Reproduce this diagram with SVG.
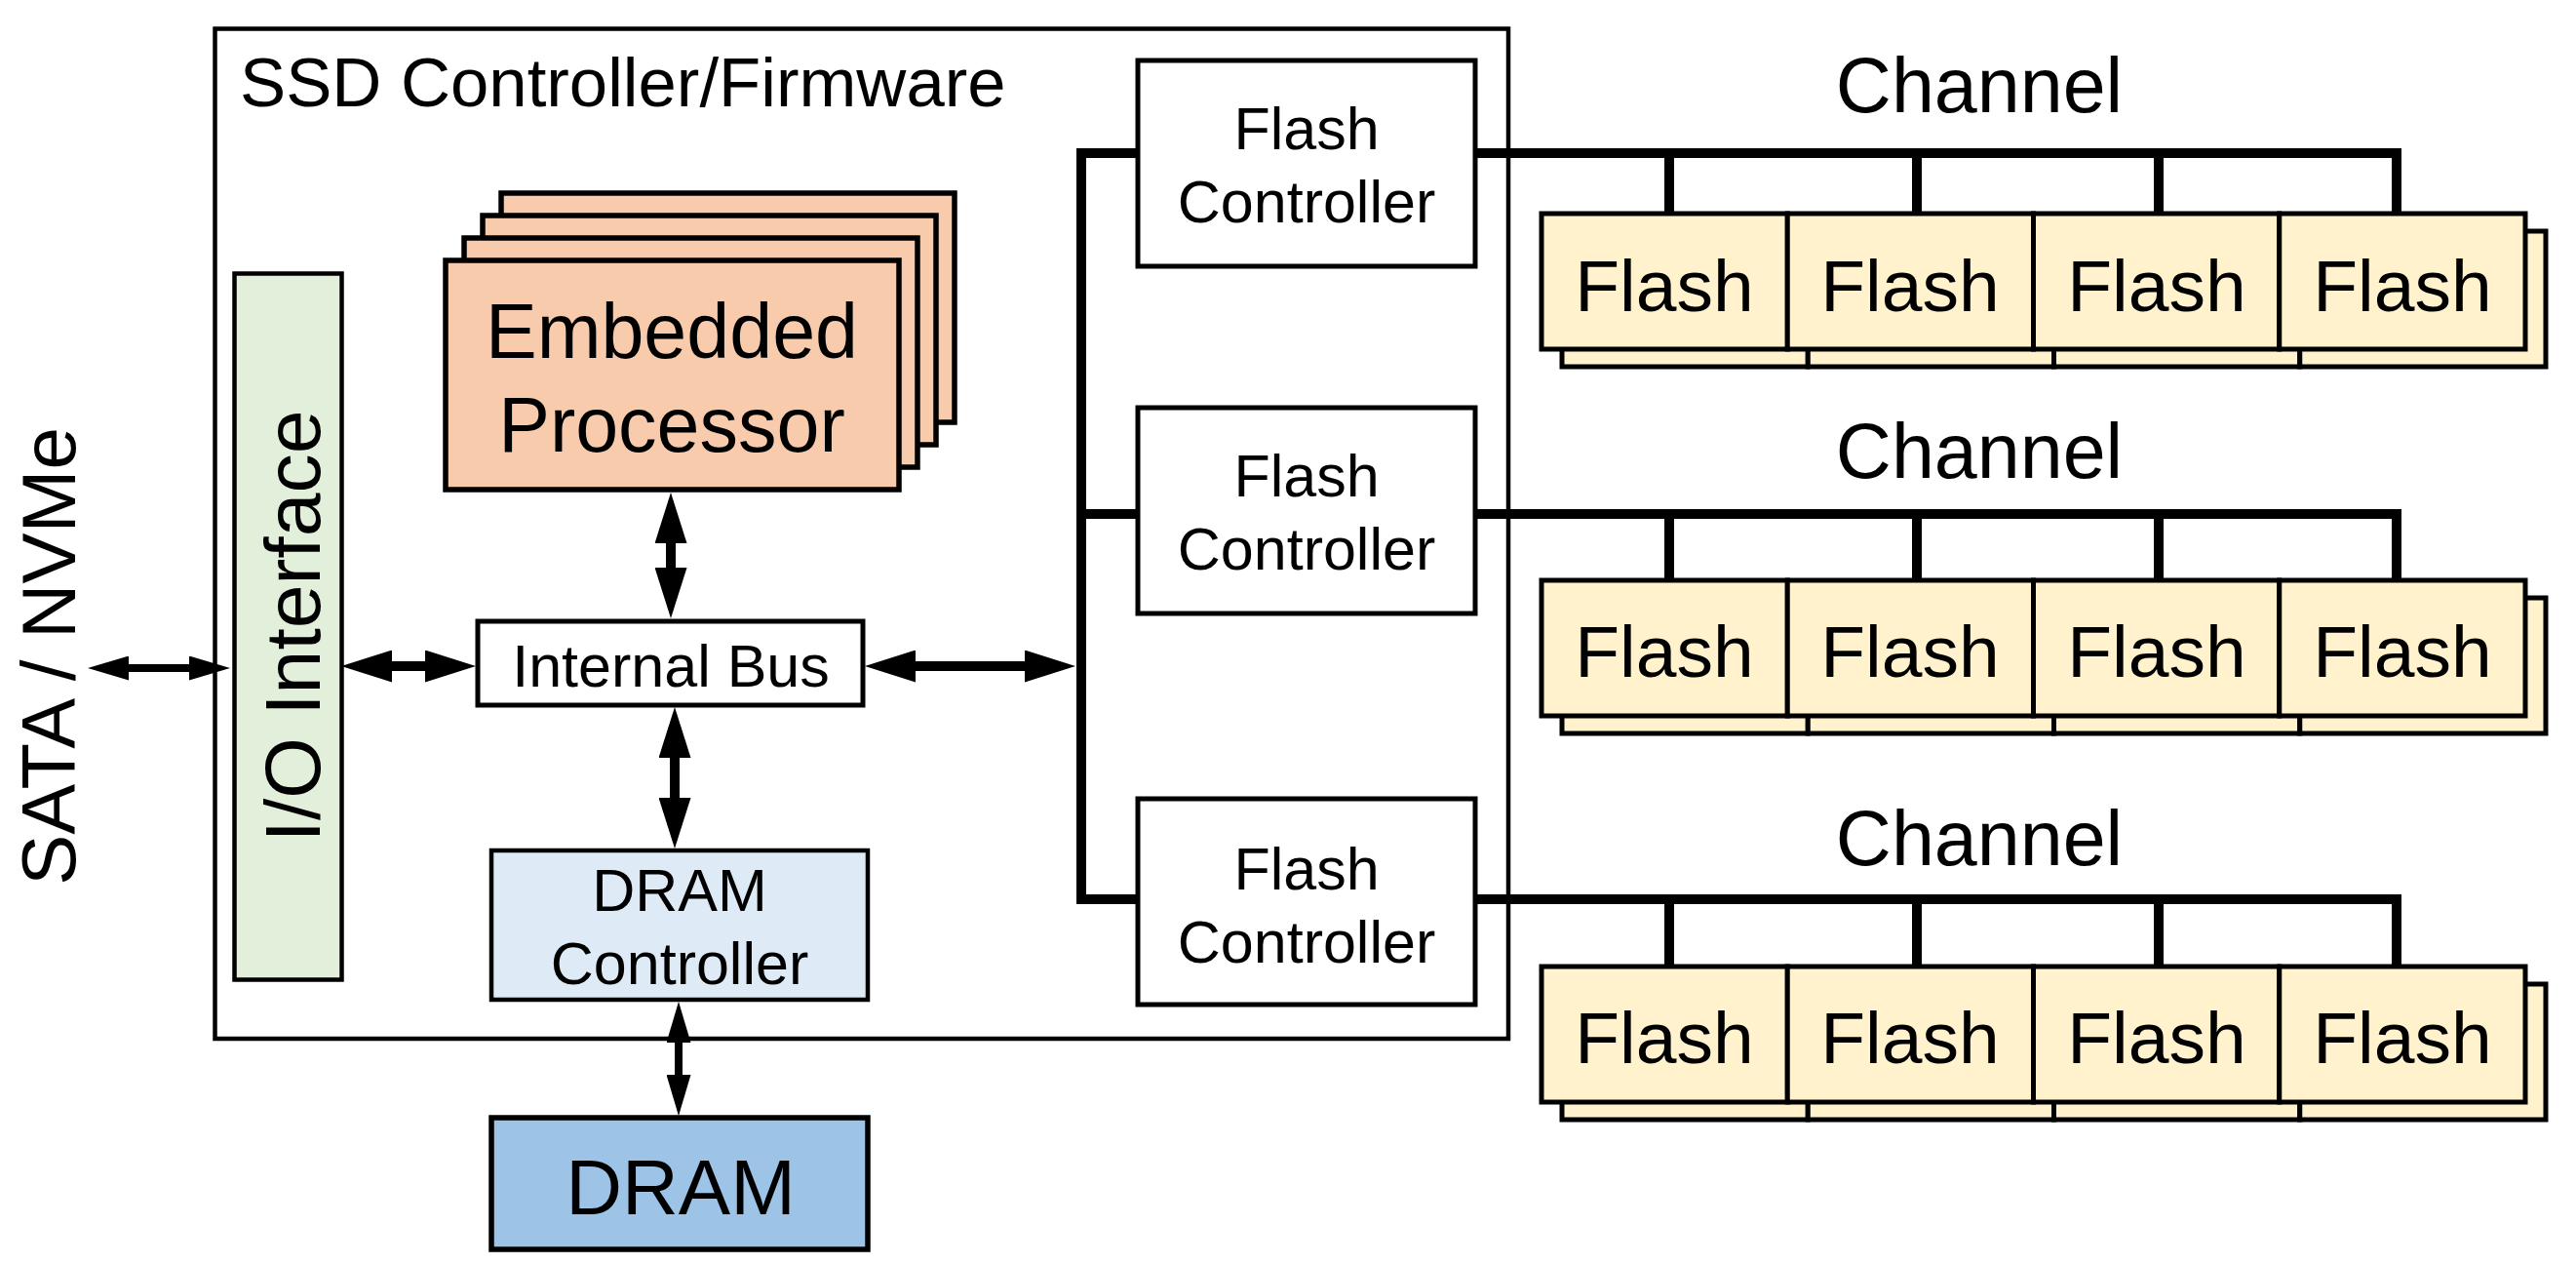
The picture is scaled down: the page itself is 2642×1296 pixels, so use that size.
<svg xmlns="http://www.w3.org/2000/svg" width="2642" height="1296" viewBox="0 0 2642 1296">
<style>
.t{font-family:"Liberation Sans",Arial,Helvetica,sans-serif;fill:#000;text-anchor:middle}
.bx{stroke:#000;stroke-width:5}
.fl{fill:#fff2cc;stroke:#000;stroke-width:5}
.ep{fill:#f8cbad;stroke:#000;stroke-width:5.5}
.bus{fill:none;stroke:#000;stroke-width:10;stroke-linejoin:miter}
.arr{fill:none;stroke:#000;stroke-width:10;marker-start:url(#ah);marker-end:url(#ah)}
.arrs{fill:none;stroke:#000;stroke-width:8;marker-start:url(#ahs);marker-end:url(#ahs)}
</style>
<defs>
<marker id="ah" viewBox="0 0 52 33" refX="22" refY="16.5" markerWidth="52" markerHeight="33" markerUnits="userSpaceOnUse" orient="auto-start-reverse"><path d="M0,0 L52,16.5 L0,33 Z" fill="#000"/></marker>
<marker id="ahs" viewBox="0 0 42 25" refX="18" refY="12.5" markerWidth="42" markerHeight="25" markerUnits="userSpaceOnUse" orient="auto-start-reverse"><path d="M0,0 L42,12.5 L0,25 Z" fill="#000"/></marker>
</defs>
<rect width="2642" height="1296" fill="#fff"/>

<g id="ssd-controller">
<rect x="220.5" y="29.5" width="1326.5" height="1035.5" fill="none" stroke="#000" stroke-width="4.5"/>
<text class="t" x="246" y="109" font-size="70.7" style="text-anchor:start">SSD Controller/Firmware</text>
</g>

<g id="connectors">
<line class="arrs" x1="114" y1="685" x2="212" y2="685"/>
<line class="arr" x1="380" y1="683" x2="458" y2="683"/>
<line class="arr" x1="688" y1="535" x2="688" y2="604"/>
<line class="arr" x1="917" y1="683" x2="1073" y2="683"/>
<line class="arr" x1="692" y1="755" x2="692" y2="840"/>
<line class="arrs" x1="696" y1="1051" x2="696" y2="1120"/>
<path class="bus" d="M1167,157 H1109 V922 H1167 M1109,527 H1167"/>
<path class="bus" d="M1513,157 H2458 V220 M1712,157 V220 M1966,157 V220 M2214,157 V220"/>
<path class="bus" d="M1513,527 H2458 V596 M1712,527 V596 M1966,527 V596 M2214,527 V596"/>
<path class="bus" d="M1513,922 H2458 V992 M1712,922 V992 M1966,922 V992 M2214,922 V992"/>
</g>

<g id="sata-nvme">
<text class="t" x="0" y="0" font-size="78" transform="translate(77,673) rotate(-90)">SATA / NVMe</text>
</g>

<g id="io-interface">
<rect x="240.5" y="280.5" width="110" height="724" fill="#e2efda" stroke="#000" stroke-width="4.5"/>
<text class="t" x="0" y="0" font-size="80.5" transform="translate(328,642) rotate(-90)">I/O Interface</text>
</g>

<g id="embedded-processor">
<rect class="ep" x="514" y="198" width="465" height="235"/>
<rect class="ep" x="495" y="221" width="465" height="235"/>
<rect class="ep" x="476" y="244" width="465" height="235"/>
<rect class="ep" x="457" y="267" width="465" height="235"/>
<text class="t" x="689" y="367" font-size="79">Embedded</text>
<text class="t" x="689" y="463" font-size="79">Processor</text>
</g>

<g id="internal-bus">
<rect class="bx" x="490" y="637" width="395" height="86" fill="#fff" stroke-width="4.5"/>
<text class="t" x="688" y="704" font-size="61">Internal Bus</text>
</g>

<g id="dram-controller">
<rect x="504" y="872" width="386" height="153" fill="#deebf7" stroke="#000" stroke-width="4.5"/>
<text class="t" x="697" y="934" font-size="61">DRAM</text>
<text class="t" x="697" y="1009" font-size="61">Controller</text>
</g>

<g id="dram">
<rect x="504" y="1146" width="386" height="135" fill="#9dc3e6" stroke="#000" stroke-width="5.5"/>
<text class="t" x="698" y="1245" font-size="80">DRAM</text>
</g>

<g id="flash-controller-1">
<rect class="bx" x="1167" y="62" width="346" height="211" fill="#fff"/>
<text class="t" x="1340" y="153" font-size="61">Flash</text>
<text class="t" x="1340" y="228" font-size="61">Controller</text>
</g>
<g id="flash-controller-2">
<rect class="bx" x="1167" y="418" width="346" height="211" fill="#fff"/>
<text class="t" x="1340" y="509" font-size="61">Flash</text>
<text class="t" x="1340" y="584" font-size="61">Controller</text>
</g>
<g id="flash-controller-3">
<rect class="bx" x="1167" y="819" width="346" height="211" fill="#fff"/>
<text class="t" x="1340" y="912" font-size="61">Flash</text>
<text class="t" x="1340" y="987" font-size="61">Controller</text>
</g>

<g id="channel-labels">
<text class="t" x="2030" y="115" font-size="79">Channel</text>
<text class="t" x="2030" y="490" font-size="79">Channel</text>
<text class="t" x="2030" y="887" font-size="79">Channel</text>
</g>

<g id="flash-row-1">
<rect class="fl" x="1602" y="237" width="252.25" height="139"/>
<rect class="fl" x="1854.25" y="237" width="252.25" height="139"/>
<rect class="fl" x="2106.5" y="237" width="252.25" height="139"/>
<rect class="fl" x="2358.75" y="237" width="252.25" height="139"/>
<rect class="fl" x="1581" y="219" width="252.25" height="139"/>
<rect class="fl" x="1833.25" y="219" width="252.25" height="139"/>
<rect class="fl" x="2085.5" y="219" width="252.25" height="139"/>
<rect class="fl" x="2337.75" y="219" width="252.25" height="139"/>
<text class="t" x="1707" y="319" font-size="75">Flash</text>
<text class="t" x="1959" y="319" font-size="75">Flash</text>
<text class="t" x="2212" y="319" font-size="75">Flash</text>
<text class="t" x="2464" y="319" font-size="75">Flash</text>
</g>
<g id="flash-row-2">
<rect class="fl" x="1602" y="613" width="252.25" height="139"/>
<rect class="fl" x="1854.25" y="613" width="252.25" height="139"/>
<rect class="fl" x="2106.5" y="613" width="252.25" height="139"/>
<rect class="fl" x="2358.75" y="613" width="252.25" height="139"/>
<rect class="fl" x="1581" y="595" width="252.25" height="139"/>
<rect class="fl" x="1833.25" y="595" width="252.25" height="139"/>
<rect class="fl" x="2085.5" y="595" width="252.25" height="139"/>
<rect class="fl" x="2337.75" y="595" width="252.25" height="139"/>
<text class="t" x="1707" y="694" font-size="75">Flash</text>
<text class="t" x="1959" y="694" font-size="75">Flash</text>
<text class="t" x="2212" y="694" font-size="75">Flash</text>
<text class="t" x="2464" y="694" font-size="75">Flash</text>
</g>
<g id="flash-row-3">
<rect class="fl" x="1602" y="1009" width="252.25" height="139"/>
<rect class="fl" x="1854.25" y="1009" width="252.25" height="139"/>
<rect class="fl" x="2106.5" y="1009" width="252.25" height="139"/>
<rect class="fl" x="2358.75" y="1009" width="252.25" height="139"/>
<rect class="fl" x="1581" y="991" width="252.25" height="139"/>
<rect class="fl" x="1833.25" y="991" width="252.25" height="139"/>
<rect class="fl" x="2085.5" y="991" width="252.25" height="139"/>
<rect class="fl" x="2337.75" y="991" width="252.25" height="139"/>
<text class="t" x="1707" y="1090" font-size="75">Flash</text>
<text class="t" x="1959" y="1090" font-size="75">Flash</text>
<text class="t" x="2212" y="1090" font-size="75">Flash</text>
<text class="t" x="2464" y="1090" font-size="75">Flash</text>
</g>
</svg>
